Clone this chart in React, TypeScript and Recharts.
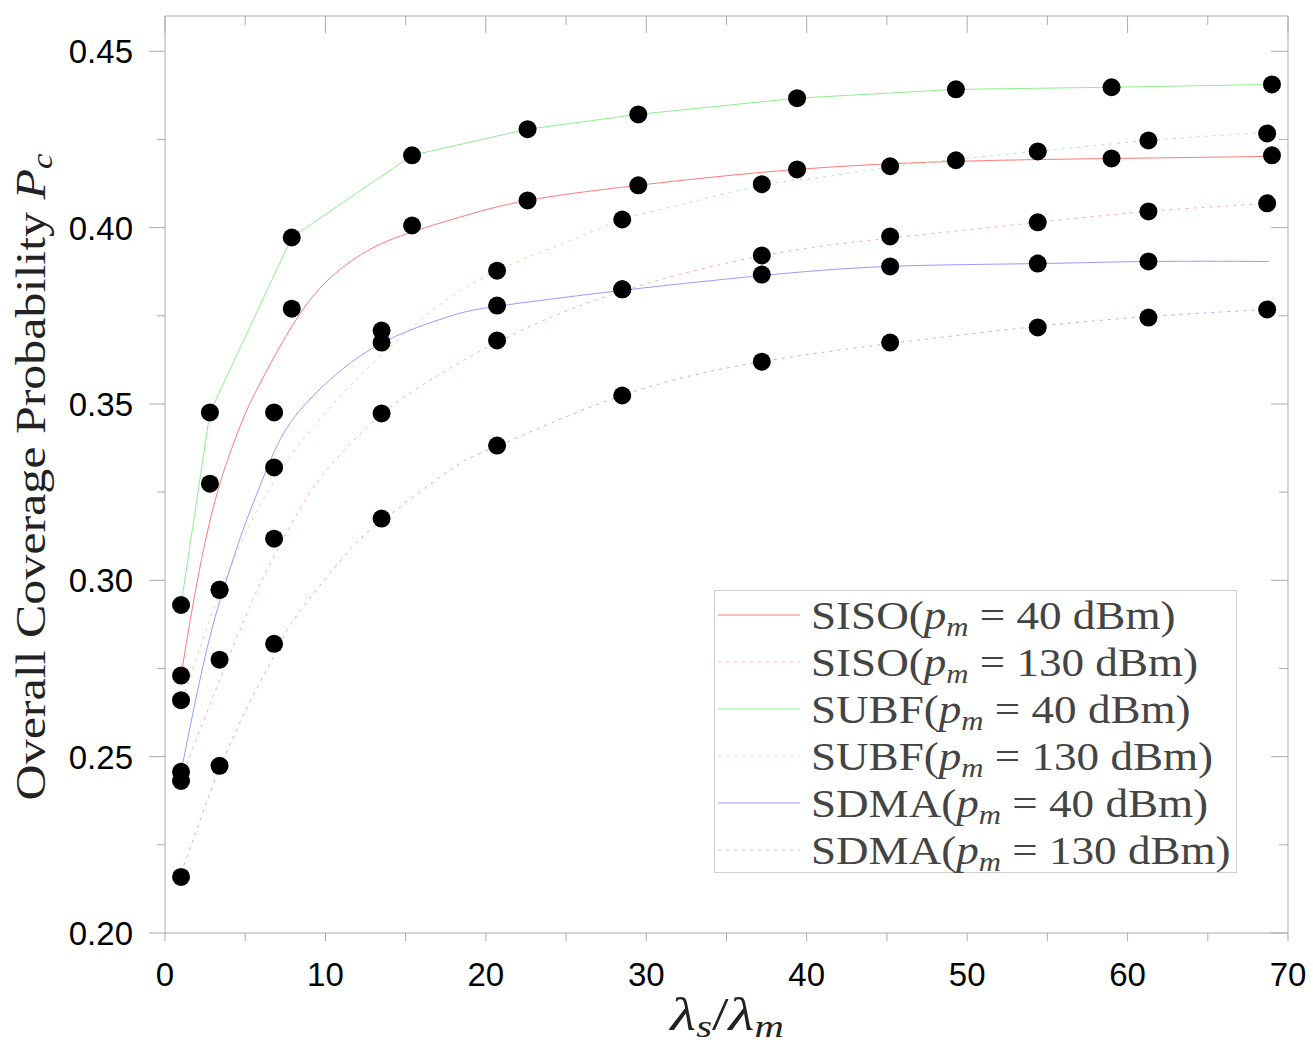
import React from "react";
import { ComposedChart, Line, XAxis, YAxis, Legend, Label } from "recharts";

// axis ticks
const xTicks = [0, 5, 10, 15, 20, 25, 30, 35, 40, 45, 50, 55, 60, 65, 70];
const yTicks = [0.2, 0.225, 0.25, 0.275, 0.3, 0.325, 0.35, 0.375, 0.4, 0.425, 0.45];

// simulation points (markers)
const simXA = [1.0, 2.8, 7.9, 15.4, 22.6, 29.5, 39.4, 49.3, 59.0, 69.0];
const simXB = [1.0, 3.4, 6.8, 13.5, 20.7, 28.5, 37.2, 45.2, 54.4, 61.3, 68.7];
const sisoLowSim = [0.273, 0.3274, 0.377, 0.4006, 0.4077, 0.412, 0.4165, 0.4191, 0.4196, 0.4205];
const subfLowSim = [0.293, 0.3476, 0.3972, 0.4205, 0.4279, 0.4321, 0.4367, 0.4392, 0.4398, 0.4406];
const sisoHighSim = [0.2431, 0.2775, 0.3118, 0.3473, 0.368, 0.3825, 0.3921, 0.3975, 0.4015, 0.4046, 0.4069];
const subfHighSim = [0.266, 0.2973, 0.3476, 0.3708, 0.3878, 0.4023, 0.4123, 0.4174, 0.4216, 0.4247, 0.4267];
const sdmaLowSim = [0.2457, 0.2973, 0.332, 0.3674, 0.3779, 0.3825, 0.3867, 0.389, 0.3898, 0.3904];
const sdmaHighSim = [0.2159, 0.2474, 0.282, 0.3175, 0.3382, 0.3524, 0.362, 0.3674, 0.3717, 0.3745, 0.3768];

// analytical curves
const sisoLowX = [1.0, 2.0, 3.3, 4.8, 6.0, 8.6, 11.3, 14.2, 18.4, 22.6, 29.5, 39.4, 49.4, 59.1, 69.0];
const sisoLowY = [0.273, 0.2995, 0.3255, 0.345, 0.3565, 0.3768, 0.3895, 0.3968, 0.403, 0.4077, 0.412, 0.4165, 0.4188, 0.4196, 0.4202];
const sisoHighX = [1.0, 2.0, 3.0, 4.0, 5.0, 6.2, 8.5, 10.5, 13.6, 17.0, 20.7, 27.5, 37.2, 46.2, 54.4, 61.3, 68.8];
const sisoHighY = [0.2435, 0.2555, 0.267, 0.2785, 0.2895, 0.3015, 0.321, 0.3335, 0.3475, 0.358, 0.3675, 0.3805, 0.392, 0.3975, 0.4015, 0.4046, 0.4069];
const subfHighX = [1.0, 2.0, 3.4, 5.2, 6.85, 8.6, 11.3, 13.2, 17.0, 21.3, 25.4, 28.5, 31.7, 37.2, 40.8, 46.6, 54.4, 61.3, 68.8];
const subfHighY = [0.264, 0.2785, 0.296, 0.315, 0.3285, 0.34, 0.354, 0.3626, 0.3777, 0.389, 0.3966, 0.4023, 0.406, 0.412, 0.4142, 0.418, 0.4216, 0.4247, 0.427];
const sdmaLowX = [1.0, 2.0, 3.0, 4.0, 5.0, 6.3, 7.5, 9.5, 13.2, 17.5, 20.7, 28.5, 37.2, 45.2, 54.4, 61.3, 68.8];
const sdmaLowY = [0.2457, 0.268, 0.2875, 0.3025, 0.316, 0.331, 0.3425, 0.3535, 0.3665, 0.3745, 0.3777, 0.3822, 0.3864, 0.389, 0.3898, 0.3904, 0.3904];
const sdmaHighX = [1.0, 2.0, 3.0, 4.4, 5.8, 7.0, 8.3, 11.3, 13.5, 17.8, 20.7, 28.5, 37.2, 46.2, 54.4, 61.3, 68.8];
const sdmaHighY = [0.217, 0.2295, 0.242, 0.257, 0.27, 0.2805, 0.2905, 0.3075, 0.3168, 0.3314, 0.338, 0.3524, 0.362, 0.3677, 0.372, 0.3748, 0.3768];

const legendRows = [
  { name: "SISO", pm: "40", color: "#ff7a7a", dash: undefined },
  { name: "SISO", pm: "130", color: "#ffb3b3", dash: "3 5" },
  { name: "SUBF", pm: "40", color: "#8fef8f", dash: undefined },
  { name: "SUBF", pm: "130", color: "#b8f2b8", dash: "3 5" },
  { name: "SDMA", pm: "40", color: "#9a9aff", dash: undefined },
  { name: "SDMA", pm: "130", color: "#bdbdff", dash: "3 5" },
];

const pts = (xs: number[], ys: number[]) => xs.map((x, i) => ({ x, y: ys[i] }));

const axisColor = "#ababab";
const tickFont = "'Liberation Sans', Arial, sans-serif";
const serif = "'Liberation Serif', 'Times New Roman', serif";

const BottomTick = (p: any) => {
  const { x, y, payload } = p;
  const major = payload.value % 10 === 0;
  return (
    <g>
      <line x1={x} y1={y} x2={x} y2={y + 8} stroke={axisColor} />
      {major && (
        <text x={x} y={y + 53} textAnchor="middle" fontFamily={tickFont} fontSize={33} fill="#000">
          {payload.value}
        </text>
      )}
    </g>
  );
};

const TopTick = (p: any) => {
  const { x, y, payload } = p;
  const major = payload.value % 10 === 0;
  return <line x1={x} y1={y} x2={x} y2={y + (major ? 17 : 9)} stroke={axisColor} />;
};

const LeftTick = (p: any) => {
  const { x, y, index } = p;
  const major = index % 2 === 0;
  return (
    <g>
      <line x1={x - (major ? 16 : 8)} y1={y} x2={x} y2={y} stroke={axisColor} />
      {major && (
        <text x={x - 32} y={y + 12} textAnchor="end" fontFamily={tickFont} fontSize={33} fill="#000">
          {p.payload.value.toFixed(2)}
        </text>
      )}
    </g>
  );
};

const RightTick = (p: any) => {
  const { x, y, index } = p;
  const major = index % 2 === 0;
  return <line x1={x - (major ? 17 : 9)} y1={y} x2={x} y2={y} stroke={axisColor} />;
};

const YTitle = () => (
  <text
    transform="translate(45, 477) rotate(-90) scale(1.19, 1)"
    textAnchor="middle"
    fontFamily={serif}
    fontSize={42}
    fill="#222"
  >
    Overall Coverage Probability{" "}
    <tspan fontStyle="italic">P</tspan>
    <tspan fontStyle="italic" fontSize={29} dy={7}>c</tspan>
  </text>
);

const XTitle = () => (
  <text
    transform="translate(727, 1030) scale(1.27, 1)"
    textAnchor="middle"
    fontFamily={serif}
    fontSize={47}
    fill="#222"
  >
    <tspan fontStyle="italic">λ</tspan>
    <tspan fontStyle="italic" fontSize={32} dy={7}>s</tspan>
    <tspan dy={-7}>/</tspan>
    <tspan fontStyle="italic">λ</tspan>
    <tspan fontStyle="italic" fontSize={32} dy={7}>m</tspan>
  </text>
);

const LegendBox = () => (
  <svg width={524} height={284} style={{ display: "block", overflow: "visible" }}>
    <rect x={0.5} y={0.5} width={522} height={282} fill="#fff" stroke="#cfcfcf" />
    {legendRows.map((r, i) => {
      const cy = 25 + 47 * i;
      return (
        <g key={i}>
          <line x1={4} x2={86} y1={cy} y2={cy} stroke={r.color} strokeWidth={1} strokeDasharray={r.dash} />
          <text
            transform={`translate(97, ${cy + 14}) scale(1.1, 1)`}
            fontFamily={serif}
            fontSize={41}
            fill="#444"
          >
            {r.name}(<tspan fontStyle="italic">p</tspan>
            <tspan fontStyle="italic" fontSize={28} dy={7}>m</tspan>
            <tspan dy={-7}>{" = " + r.pm + " dBm)"}</tspan>
          </text>
        </g>
      );
    })}
  </svg>
);

export default function App() {
  const lineProps = { xAxisId: "b", yAxisId: "l", dataKey: "y", dot: false, isAnimationActive: false };
  const markerDot = { r: 9, fill: "#000", stroke: "#000", strokeWidth: 0 };
  const markerProps = {
    xAxisId: "b",
    yAxisId: "l",
    dataKey: "y",
    stroke: "none",
    dot: markerDot,
    activeDot: false,
    legendType: "none" as const,
    isAnimationActive: false,
  };

  return (
    <div style={{ position: "absolute", left: 0, top: 0, width: 1313, height: 1050, background: "#fff" }}>
      <ComposedChart width={1313} height={1050} margin={{ top: 0, right: 0, bottom: 0, left: 0 }}>
        <XAxis
          xAxisId="b"
          type="number"
          dataKey="x"
          domain={[0, 70]}
          ticks={xTicks}
          interval={0}
          allowDataOverflow
          height={117}
          tickSize={0}
          tickMargin={0}
          tickLine={false}
          axisLine={{ stroke: axisColor }}
          tick={BottomTick}
        >
          <Label content={XTitle} />
        </XAxis>
        <XAxis
          xAxisId="t"
          orientation="top"
          type="number"
          dataKey="x"
          domain={[0, 70]}
          ticks={xTicks}
          interval={0}
          allowDataOverflow
          height={16}
          tickSize={0}
          tickMargin={0}
          tickLine={false}
          axisLine={{ stroke: axisColor }}
          tick={TopTick}
        />
        <YAxis
          yAxisId="l"
          type="number"
          domain={[0.2, 0.46]}
          ticks={yTicks}
          interval={0}
          allowDataOverflow
          width={165}
          tickSize={0}
          tickMargin={0}
          tickLine={false}
          axisLine={{ stroke: axisColor }}
          tick={LeftTick}
        >
          <Label content={YTitle} />
        </YAxis>
        <YAxis
          yAxisId="r"
          orientation="right"
          type="number"
          domain={[0.2, 0.46]}
          ticks={yTicks}
          interval={0}
          allowDataOverflow
          width={25}
          tickSize={0}
          tickMargin={0}
          tickLine={false}
          axisLine={{ stroke: axisColor }}
          tick={RightTick}
        />
        <Legend
          layout="vertical"
          align="center"
          verticalAlign="middle"
          content={LegendBox}
          wrapperStyle={{ position: "absolute", left: 714, top: 590, width: 524, height: 284 }}
        />

        <Line {...lineProps} data={pts(sisoLowX, sisoLowY)} type="natural" stroke="#ff7a7a" strokeWidth={1} name="SISO 40" />
        <Line {...lineProps} data={pts(sisoHighX, sisoHighY)} type="natural" stroke="#ffa8a8" strokeWidth={1} strokeDasharray="3 5" name="SISO 130" />
        <Line {...lineProps} data={pts(simXA, subfLowSim)} type="linear" stroke="#8fef8f" strokeWidth={1} name="SUBF 40" />
        <Line {...lineProps} data={pts(subfHighX, subfHighY)} type="natural" stroke="#a8eea8" strokeWidth={1} strokeDasharray="3 5" name="SUBF 130" />
        <Line {...lineProps} data={pts(sdmaLowX, sdmaLowY)} type="natural" stroke="#9a9aff" strokeWidth={1} name="SDMA 40" />
        <Line {...lineProps} data={pts(sdmaHighX, sdmaHighY)} type="natural" stroke="#b0b0ff" strokeWidth={1} strokeDasharray="3 5" name="SDMA 130" />

        <Line {...markerProps} data={pts(simXA, sisoLowSim)} name="SISO 40 sim" />
        <Line {...markerProps} data={pts(simXB, sisoHighSim)} name="SISO 130 sim" />
        <Line {...markerProps} data={pts(simXA, subfLowSim)} name="SUBF 40 sim" />
        <Line {...markerProps} data={pts(simXB, subfHighSim)} name="SUBF 130 sim" />
        <Line {...markerProps} data={pts(simXB.slice(0, 10), sdmaLowSim)} name="SDMA 40 sim" />
        <Line {...markerProps} data={pts(simXB, sdmaHighSim)} name="SDMA 130 sim" />
      </ComposedChart>
    </div>
  );
}
